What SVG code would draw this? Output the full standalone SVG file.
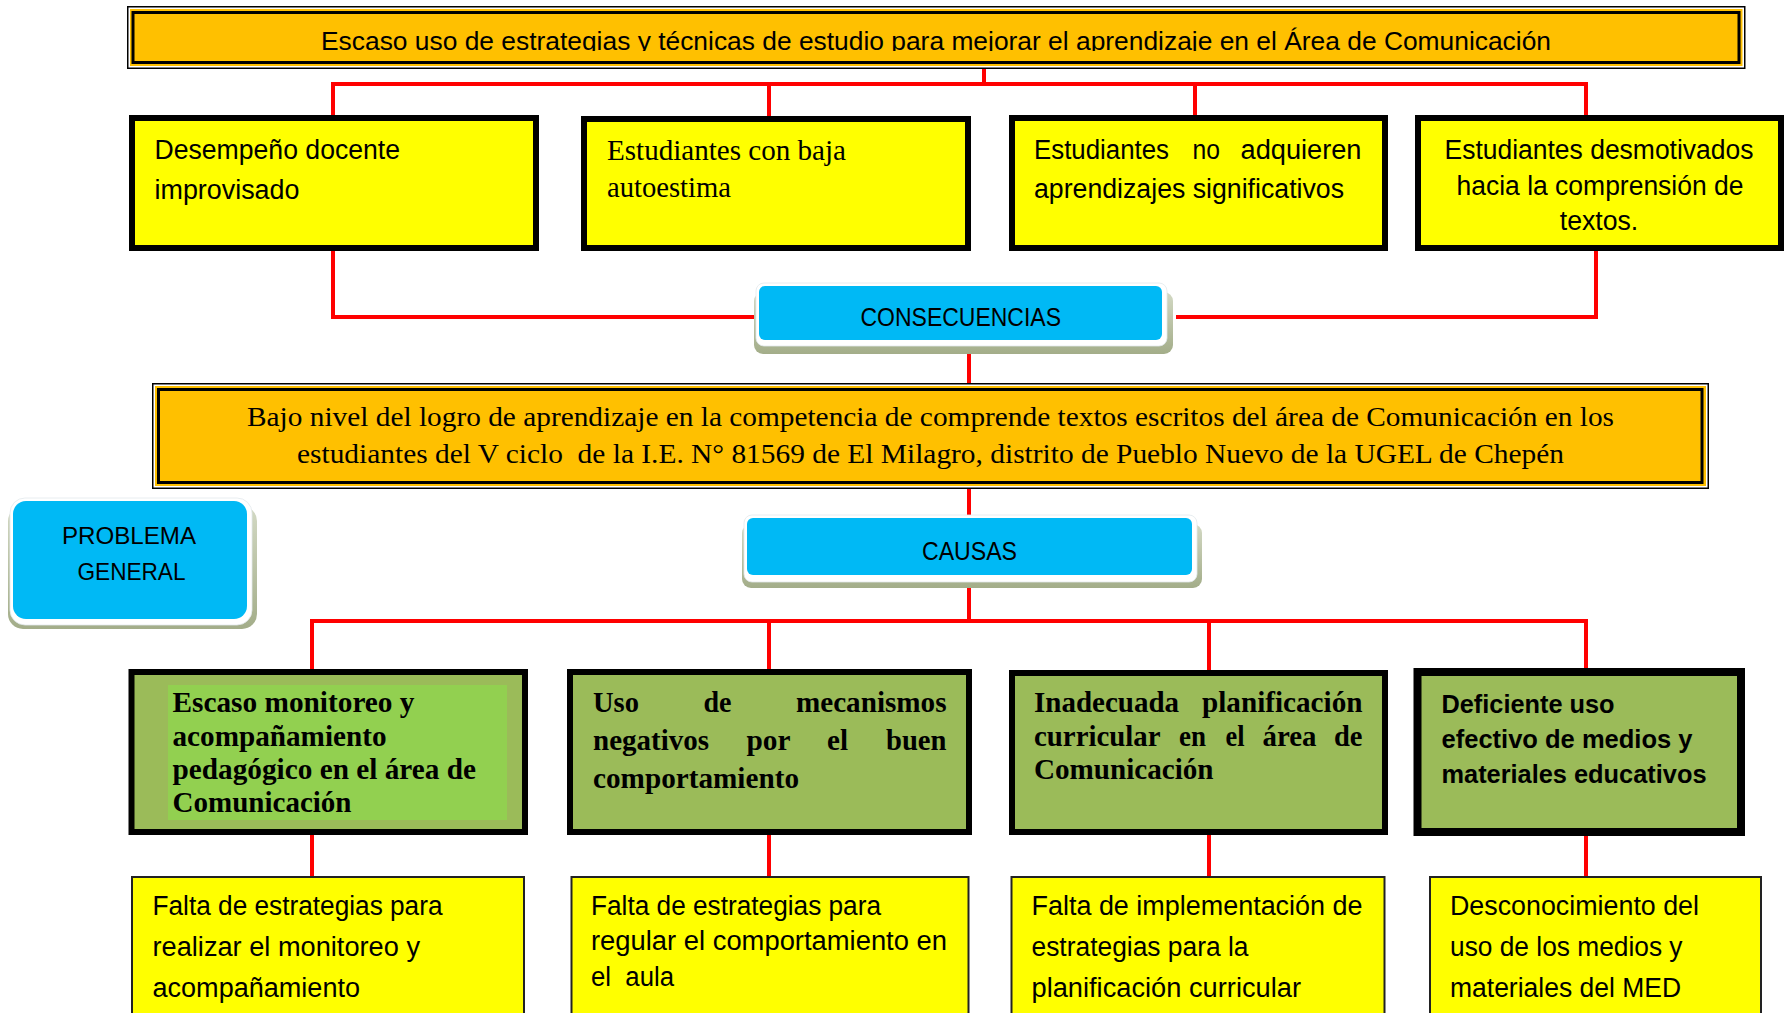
<svg xmlns="http://www.w3.org/2000/svg" width="1785" height="1013" viewBox="0 0 1785 1013">
<style>
.sans{font-family:'Liberation Sans',Arial,sans-serif;fill:#000}
.serif{font-family:'Liberation Serif','Times New Roman',serif;fill:#000}
.b{font-weight:bold}
.conn{fill:none;stroke:#FF0000;stroke-width:4;stroke-linecap:square}
.ybox{fill:#FFFF00;stroke:#000;stroke-width:6}
.ybox2{fill:#FFFF00;stroke:#222;stroke-width:2}
.gbox{fill:#9BBB59;stroke:#000;stroke-width:6}
.cyan{fill:#00B9F5}
.shadow{fill:url(#shGrad)}
.wband{fill:#FFFFFF;stroke:#E2E8EC;stroke-width:0.8}
</style>
<defs>
<linearGradient id="shGrad" x1="0" y1="0" x2="0" y2="1">
<stop offset="0" stop-color="#D3D9C4"/>
<stop offset="1" stop-color="#A3AD89"/>
</linearGradient>
<clipPath id="clipTop"><rect x="130" y="12" width="1610" height="39"/></clipPath>
</defs>
<rect width="1785" height="1013" fill="#FFFFFF"/>

<g id="connectors">
<path class="conn" d="M984 68 V84 M333 116 V84 H1586 V116 M769 84 V116 M1195 84 V116"/>
<path class="conn" d="M333 251 V317 H756 M1178 317 H1596 V251"/>
<path class="conn" d="M969 343 V384"/>
<path class="conn" d="M969 488 V516"/>
<path class="conn" d="M969 582 V621 M312 670 V621 H1586 V670 M769 621 V670 M1209 621 V670"/>
<path class="conn" d="M312 835 V876 M769 835 V876 M1209 835 V876 M1586 835 V876"/>
</g>

<g id="titulo">
<rect x="127.75" y="6.75" width="1617" height="61.5" fill="#FFFFFF" stroke="#000" stroke-width="1.5"/>
<rect x="130" y="9" width="1612.5" height="57" fill="#FFC000"/>
<rect x="133" y="12.5" width="1606" height="50" fill="none" stroke="#000" stroke-width="3"/>
<text class="sans" x="321" y="50" font-size="25" textLength="1230" lengthAdjust="spacingAndGlyphs" clip-path="url(#clipTop)">Escaso uso de estrategias y técnicas de estudio para mejorar el aprendizaje en el Área de Comunicación</text>
</g>

<g id="consecuencia1">
<rect class="ybox" x="132" y="118" width="404" height="130"/>
<text class="sans" font-size="27"><tspan x="154.5" y="158.5" textLength="245.5" lengthAdjust="spacingAndGlyphs">Desempeño docente</tspan><tspan x="154.5" y="198.5" textLength="145" lengthAdjust="spacingAndGlyphs">improvisado</tspan></text>
</g>

<g id="consecuencia2">
<rect class="ybox" x="584" y="119" width="384" height="129"/>
<text class="serif" font-size="29"><tspan x="607" y="160" textLength="239" lengthAdjust="spacingAndGlyphs">Estudiantes con baja</tspan><tspan x="607" y="197" textLength="124" lengthAdjust="spacingAndGlyphs">autoestima</tspan></text>
</g>

<g id="consecuencia3">
<rect class="ybox" x="1012" y="118" width="373" height="130"/>
<text class="sans" font-size="27"><tspan x="1034" y="158.5" textLength="135" lengthAdjust="spacingAndGlyphs">Estudiantes</tspan><tspan x="1192.5" y="158.5" textLength="27.5" lengthAdjust="spacingAndGlyphs">no</tspan><tspan x="1240.5" y="158.5" textLength="121" lengthAdjust="spacingAndGlyphs">adquieren</tspan><tspan x="1034" y="197.5" textLength="310" lengthAdjust="spacingAndGlyphs">aprendizajes significativos</tspan></text>
</g>

<g id="consecuencia4">
<rect class="ybox" x="1418" y="118" width="363" height="130"/>
<text class="sans" font-size="27" text-anchor="middle"><tspan x="1599" y="159" textLength="309" lengthAdjust="spacingAndGlyphs">Estudiantes desmotivados</tspan><tspan x="1600" y="194.5" textLength="287" lengthAdjust="spacingAndGlyphs">hacia la comprensión de</tspan><tspan x="1599" y="229.5" textLength="78.5" lengthAdjust="spacingAndGlyphs">textos.</tspan></text>
</g>

<g id="consecuencias">
<rect class="shadow" x="754" y="292" width="419" height="62" rx="9"/>
<rect class="wband" x="756" y="283" width="411" height="63" rx="8"/>
<rect class="cyan" x="759" y="286" width="403" height="54" rx="6"/>
<text class="sans" font-size="26.5" x="860.5" y="326" textLength="200.5" lengthAdjust="spacingAndGlyphs">CONSECUENCIAS</text>
</g>

<g id="problema">
<rect x="152.75" y="383.75" width="1555.5" height="104.5" fill="#FFFFFF" stroke="#000" stroke-width="1.5"/>
<rect x="155" y="386" width="1551" height="100" fill="#FFC000"/>
<rect x="158.5" y="389.5" width="1543.5" height="93" fill="none" stroke="#000" stroke-width="3"/>
<text class="serif" font-size="27.5" xml:space="preserve"><tspan x="247" y="425.5" textLength="1367" lengthAdjust="spacingAndGlyphs">Bajo nivel del logro de aprendizaje en la competencia de comprende textos escritos del área de Comunicación en los</tspan><tspan x="297" y="462.5" textLength="1267" lengthAdjust="spacingAndGlyphs">estudiantes del V ciclo  de la I.E. N° 81569 de El Milagro, distrito de Pueblo Nuevo de la UGEL de Chepén</tspan></text>
</g>

<g id="problema-general">
<rect class="shadow" x="8" y="506" width="249" height="123" rx="15"/>
<rect class="wband" x="10" y="498" width="242" height="127" rx="15"/>
<rect class="cyan" x="13" y="501" width="234" height="118" rx="13"/>
<text class="sans" font-size="24"><tspan x="62" y="544" textLength="134" lengthAdjust="spacingAndGlyphs">PROBLEMA</tspan><tspan x="77.5" y="580" textLength="108" lengthAdjust="spacingAndGlyphs">GENERAL</tspan></text>
</g>

<g id="causas">
<rect class="shadow" x="742" y="524" width="460" height="64" rx="9"/>
<rect class="wband" x="744" y="515" width="453" height="67" rx="8"/>
<rect class="cyan" x="747" y="518" width="445" height="57" rx="6"/>
<text class="sans" font-size="26" x="922" y="559.5" textLength="95" lengthAdjust="spacingAndGlyphs">CAUSAS</text>
</g>

<g id="causa1">
<rect class="gbox" x="131.5" y="672" width="393.5" height="160"/>
<rect x="168" y="685" width="339" height="135" fill="#92D050"/>
<text class="serif b" font-size="29"><tspan x="172.5" y="712" textLength="242" lengthAdjust="spacingAndGlyphs">Escaso monitoreo y</tspan><tspan x="172.5" y="746" textLength="214" lengthAdjust="spacingAndGlyphs">acompañamiento</tspan><tspan x="172.5" y="779" textLength="303.5" lengthAdjust="spacingAndGlyphs">pedagógico en el área de</tspan><tspan x="172.5" y="812" textLength="179" lengthAdjust="spacingAndGlyphs">Comunicación</tspan></text>
</g>

<g id="causa2">
<rect class="gbox" x="570" y="672" width="399" height="160"/>
<text class="serif b" font-size="29"><tspan x="593" y="712" textLength="46" lengthAdjust="spacingAndGlyphs">Uso</tspan><tspan x="703.5" y="712" textLength="28" lengthAdjust="spacingAndGlyphs">de</tspan><tspan x="796" y="712" textLength="150.5" lengthAdjust="spacingAndGlyphs">mecanismos</tspan><tspan x="593" y="750" textLength="116" lengthAdjust="spacingAndGlyphs">negativos</tspan><tspan x="746.5" y="750" textLength="44" lengthAdjust="spacingAndGlyphs">por</tspan><tspan x="827" y="750" textLength="21" lengthAdjust="spacingAndGlyphs">el</tspan><tspan x="886" y="750" textLength="60.5" lengthAdjust="spacingAndGlyphs">buen</tspan><tspan x="593" y="788" textLength="206" lengthAdjust="spacingAndGlyphs">comportamiento</tspan></text>
</g>

<g id="causa3">
<rect class="gbox" x="1012" y="673" width="373" height="159"/>
<text class="serif b" font-size="29"><tspan x="1034" y="712" textLength="145" lengthAdjust="spacingAndGlyphs">Inadecuada</tspan><tspan x="1202" y="712" textLength="160.5" lengthAdjust="spacingAndGlyphs">planificación</tspan><tspan x="1034" y="746" textLength="126.5" lengthAdjust="spacingAndGlyphs">curricular</tspan><tspan x="1179" y="746" textLength="27" lengthAdjust="spacingAndGlyphs">en</tspan><tspan x="1225.5" y="746" textLength="19" lengthAdjust="spacingAndGlyphs">el</tspan><tspan x="1262.5" y="746" textLength="54" lengthAdjust="spacingAndGlyphs">área</tspan><tspan x="1334" y="746" textLength="28.5" lengthAdjust="spacingAndGlyphs">de</tspan><tspan x="1034" y="779" textLength="179.5" lengthAdjust="spacingAndGlyphs">Comunicación</tspan></text>
</g>

<g id="causa4">
<rect x="1417.5" y="672" width="323.5" height="160" fill="#9BBB59" stroke="#000" stroke-width="8"/>
<text class="sans b" font-size="26.5"><tspan x="1441.5" y="713" textLength="173" lengthAdjust="spacingAndGlyphs">Deficiente uso</tspan><tspan x="1441.5" y="748" textLength="251" lengthAdjust="spacingAndGlyphs">efectivo de medios y</tspan><tspan x="1441.5" y="783" textLength="265" lengthAdjust="spacingAndGlyphs">materiales educativos</tspan></text>
</g>

<g id="efecto1">
<rect class="ybox2" x="132" y="877" width="392" height="140"/>
<text class="sans" font-size="27"><tspan x="152.5" y="915" textLength="290" lengthAdjust="spacingAndGlyphs">Falta de estrategias para</tspan><tspan x="152.5" y="956" textLength="267.5" lengthAdjust="spacingAndGlyphs">realizar el monitoreo y</tspan><tspan x="152.5" y="996.5" textLength="207.5" lengthAdjust="spacingAndGlyphs">acompañamiento</tspan></text>
</g>

<g id="efecto2">
<rect class="ybox2" x="571.5" y="877" width="397" height="140"/>
<text class="sans" font-size="27" xml:space="preserve"><tspan x="591" y="915" textLength="290" lengthAdjust="spacingAndGlyphs">Falta de estrategias para</tspan><tspan x="591" y="950" textLength="356" lengthAdjust="spacingAndGlyphs">regular el comportamiento en</tspan><tspan x="591" y="985.5" textLength="83" lengthAdjust="spacingAndGlyphs">el  aula</tspan></text>
</g>

<g id="efecto3">
<rect class="ybox2" x="1011.5" y="877" width="373" height="140"/>
<text class="sans" font-size="27"><tspan x="1031.5" y="915" textLength="331" lengthAdjust="spacingAndGlyphs">Falta de implementación de</tspan><tspan x="1031.5" y="956" textLength="217" lengthAdjust="spacingAndGlyphs">estrategias para la</tspan><tspan x="1031.5" y="996.5" textLength="269.5" lengthAdjust="spacingAndGlyphs">planificación curricular</tspan></text>
</g>

<g id="efecto4">
<rect class="ybox2" x="1430" y="877" width="331" height="140"/>
<text class="sans" font-size="27"><tspan x="1450" y="915" textLength="249" lengthAdjust="spacingAndGlyphs">Desconocimiento del</tspan><tspan x="1450" y="956" textLength="232.5" lengthAdjust="spacingAndGlyphs">uso de los medios y</tspan><tspan x="1450" y="996.5" textLength="231" lengthAdjust="spacingAndGlyphs">materiales del MED</tspan></text>
</g>
</svg>
